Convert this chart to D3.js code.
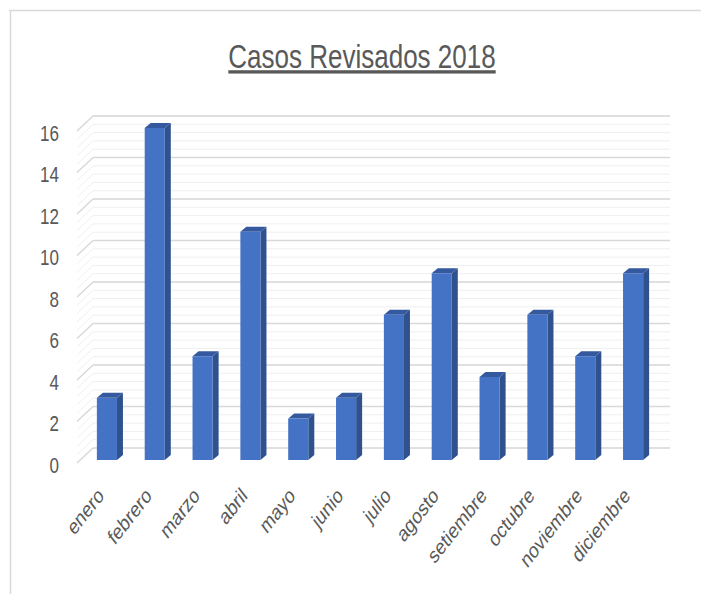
<!DOCTYPE html>
<html>
<head>
<meta charset="utf-8">
<script src="https://cdn.jsdelivr.net/npm/d3@7"></script>
<style>
  html, body { margin: 0; padding: 0; background: #fff; }
  svg { display: block; }
  text { font-family: "Liberation Sans", Arial, sans-serif; fill: #595959; }
</style>
</head>
<body>
<svg id="chart" width="701" height="594"></svg>
<script>
// ---- data ----
const title = "Casos Revisados 2018";
const months = ["enero","febrero","marzo","abril","mayo","junio","julio","agosto","setiembre","octubre","noviembre","diciembre"];
const casos = [3, 16, 5, 11, 2, 3, 7, 9, 4, 7, 5, 9];
const yTicks = [0, 2, 4, 6, 8, 10, 12, 14, 16];
const yMax = 16;
const minorStep = 0.4;

// ---- layout ----
const svg = d3.select("#chart");
const S = 1.28;               // vertical text stretch
const depthX = 16, depthY = -15; // side wall depth (front edge -> back wall)
const barDX = 6, barDY = -5;  // bar 3D depth

const x = d3.scaleBand().domain(months).range([83, 657]).paddingInner(0.58).paddingOuter(0.29);
const y = d3.scaleLinear().domain([0, yMax]).range([460, 128]);

// frame
svg.append("line").attr("x1", 9).attr("x2", 701).attr("y1", 10.5).attr("y2", 10.5)
  .attr("stroke", "#d9d9d9").attr("stroke-width", 1.5);
svg.append("line").attr("x1", 10.5).attr("x2", 10.5).attr("y1", 10).attr("y2", 594)
  .attr("stroke", "#d9d9d9").attr("stroke-width", 1.5);

// title
svg.append("g").attr("transform", `translate(362,68) scale(1,${S})`)
  .append("text").attr("text-anchor", "middle")
  .style("font-size", "26px").style("text-decoration", "underline")
  .text(title);

// gridlines: minor then major
const minorVals = d3.range(0, yMax + 0.001, minorStep);
const wallX0 = 77, wallX1 = 93, backX1 = 670;
const grid = svg.append("g");
function gridLines(vals, color, w) {
  vals.forEach(v => {
    const yf = y(v) + 3;
    const yb = yf + depthY;
    grid.append("line").attr("x1", wallX0).attr("y1", yf).attr("x2", wallX1).attr("y2", yb)
      .attr("stroke", color).attr("stroke-width", w);
    grid.append("line").attr("x1", wallX1).attr("y1", yb).attr("x2", backX1).attr("y2", yb)
      .attr("stroke", color).attr("stroke-width", w);
  });
}
gridLines(minorVals, "#efefef", 1);
gridLines(yTicks, "#d9d9d9", 1.5);

// y labels
const yl = svg.append("g");
yTicks.forEach(v => {
  yl.append("g").attr("transform", `translate(59,${y(v) + 5}) scale(1,${S})`)
    .append("text").attr("text-anchor", "end").attr("dy", "0.35em")
    .style("font-size", "17px").text(v);
});

// bars
const bars = svg.append("g");
months.forEach((m, i) => {
  const bx = x(m), bw = x.bandwidth(), top = y(casos[i]), bot = y(0);
  const g = bars.append("g");
  // side
  g.append("path").attr("d",
    `M${bx + bw},${top} L${bx + bw + barDX},${top + barDY} L${bx + bw + barDX},${bot + barDY} L${bx + bw},${bot} Z`)
    .attr("fill", "#2f528f");
  // top
  g.append("path").attr("d",
    `M${bx},${top} L${bx + barDX},${top + barDY} L${bx + bw + barDX},${top + barDY} L${bx + bw},${top} Z`)
    .attr("fill", "#34599e");
  // front
  g.append("rect").attr("x", bx).attr("y", top).attr("width", bw).attr("height", bot - top)
    .attr("fill", "#4472c4");
});

// x labels
const xl = svg.append("g");
months.forEach(m => {
  const cx = x(m) + x.bandwidth() / 2;
  xl.append("g").attr("transform", `translate(${cx - 2},497) scale(1,${S}) rotate(-45)`)
    .append("text").attr("text-anchor", "end")
    .style("font-size", "17px").text(m);
});
</script>
</body>
</html>
